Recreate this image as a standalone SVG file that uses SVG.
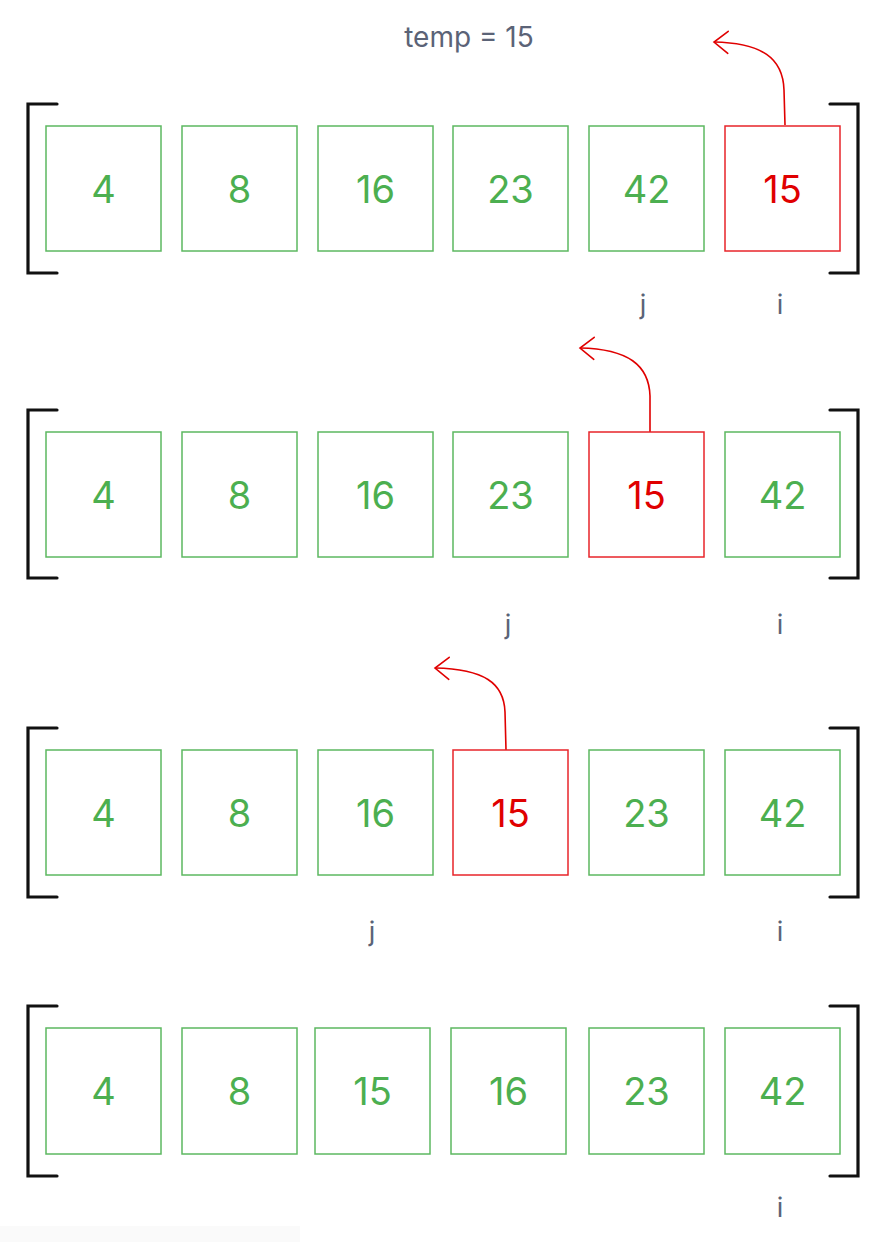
<svg xmlns="http://www.w3.org/2000/svg" width="894" height="1242" viewBox="0 0 894 1242">
<defs>
<style>
.box{fill:#fff;stroke:#5cb860;stroke-width:1.5}
.hot{fill:#fff;stroke:#e8242a;stroke-width:1.5}
.num{font-family:Inter,"Noto Sans",sans-serif;font-size:38px;fill:#4caf50;text-anchor:middle}
.numh{fill:#e00000}
.br{fill:none;stroke:#111;stroke-width:3.2;stroke-linecap:round;stroke-linejoin:miter}
.lbl{font-family:Inter,"Noto Sans",sans-serif;font-size:27px;fill:#5b6377;text-anchor:middle}
.arr{fill:none;stroke:#e00000;stroke-width:1.6;marker-end:url(#ah)}
</style>
<marker id="ah" markerUnits="userSpaceOnUse" markerWidth="30" markerHeight="30" viewBox="-20 -15 30 30" refX="0" refY="0" orient="auto" overflow="visible">
<path d="M-14,-11 L0,0 L-14,11" fill="none" stroke="#e00000" stroke-width="1.6" stroke-linecap="round"/>
</marker>
</defs>
<rect x="0" y="1226" width="300" height="16" fill="#fafafa"/>
<text id="temp" class="lbl" x="469" y="47" style="font-size:28px">temp = 15</text>
<g id="connectors">
<path class="arr" d="M785 125 L784 90 C783 58 762 43 714 42"/>
<path class="arr" d="M650 432 L650 396 C649 365 628 349 580 348"/>
<path class="arr" d="M506 750 L505 712 C504 683 484 669 435 668"/>
</g>
<g id="row1">
<path class="br" d="M57 104 H28 V273 H57"/>
<path class="br" d="M830 104 H858 V273 H830"/>
<g id="r1n1"><rect class="box" x="46" y="126" width="115" height="125"/><text class="num" x="103.5" y="202.5">4</text></g>
<g id="r1n2"><rect class="box" x="182" y="126" width="115" height="125"/><text class="num" x="239.5" y="202.5">8</text></g>
<g id="r1n3"><rect class="box" x="318" y="126" width="115" height="125"/><text class="num" x="375.5" y="202.5">16</text></g>
<g id="r1n4"><rect class="box" x="453" y="126" width="115" height="125"/><text class="num" x="510.5" y="202.5">23</text></g>
<g id="r1n5"><rect class="box" x="589" y="126" width="115" height="125"/><text class="num" x="646.5" y="202.5">42</text></g>
<g id="r1n6"><rect class="hot" x="725" y="126" width="115" height="125"/><text class="num numh" x="782.5" y="202.5">15</text></g>
<text class="lbl" x="643" y="314">j</text>
<text class="lbl" x="780" y="314">i</text>
</g>
<g id="row2">
<path class="br" d="M57 410 H28 V578 H57"/>
<path class="br" d="M830 410 H858 V578 H830"/>
<g id="r2n1"><rect class="box" x="46" y="432" width="115" height="125"/><text class="num" x="103.5" y="508.5">4</text></g>
<g id="r2n2"><rect class="box" x="182" y="432" width="115" height="125"/><text class="num" x="239.5" y="508.5">8</text></g>
<g id="r2n3"><rect class="box" x="318" y="432" width="115" height="125"/><text class="num" x="375.5" y="508.5">16</text></g>
<g id="r2n4"><rect class="box" x="453" y="432" width="115" height="125"/><text class="num" x="510.5" y="508.5">23</text></g>
<g id="r2n5"><rect class="hot" x="589" y="432" width="115" height="125"/><text class="num numh" x="646.5" y="508.5">15</text></g>
<g id="r2n6"><rect class="box" x="725" y="432" width="115" height="125"/><text class="num" x="782.5" y="508.5">42</text></g>
<text class="lbl" x="508" y="634">j</text>
<text class="lbl" x="780" y="634">i</text>
</g>
<g id="row3">
<path class="br" d="M57 728 H28 V897 H57"/>
<path class="br" d="M830 728 H858 V897 H830"/>
<g id="r3n1"><rect class="box" x="46" y="750" width="115" height="125"/><text class="num" x="103.5" y="826.5">4</text></g>
<g id="r3n2"><rect class="box" x="182" y="750" width="115" height="125"/><text class="num" x="239.5" y="826.5">8</text></g>
<g id="r3n3"><rect class="box" x="318" y="750" width="115" height="125"/><text class="num" x="375.5" y="826.5">16</text></g>
<g id="r3n4"><rect class="hot" x="453" y="750" width="115" height="125"/><text class="num numh" x="510.5" y="826.5">15</text></g>
<g id="r3n5"><rect class="box" x="589" y="750" width="115" height="125"/><text class="num" x="646.5" y="826.5">23</text></g>
<g id="r3n6"><rect class="box" x="725" y="750" width="115" height="125"/><text class="num" x="782.5" y="826.5">42</text></g>
<text class="lbl" x="372" y="941">j</text>
<text class="lbl" x="780" y="941">i</text>
</g>
<g id="row4">
<path class="br" d="M57 1006 H28 V1176 H57"/>
<path class="br" d="M830 1006 H858 V1176 H830"/>
<g id="r4n1"><rect class="box" x="46" y="1028" width="115" height="126"/><text class="num" x="103.5" y="1105">4</text></g>
<g id="r4n2"><rect class="box" x="182" y="1028" width="115" height="126"/><text class="num" x="239.5" y="1105">8</text></g>
<g id="r4n3"><rect class="box" x="315" y="1028" width="115" height="126"/><text class="num" x="372.5" y="1105">15</text></g>
<g id="r4n4"><rect class="box" x="451" y="1028" width="115" height="126"/><text class="num" x="508.5" y="1105">16</text></g>
<g id="r4n5"><rect class="box" x="589" y="1028" width="115" height="126"/><text class="num" x="646.5" y="1105">23</text></g>
<g id="r4n6"><rect class="box" x="725" y="1028" width="115" height="126"/><text class="num" x="782.5" y="1105">42</text></g>
<text class="lbl" x="780" y="1217">i</text>
</g>
</svg>
